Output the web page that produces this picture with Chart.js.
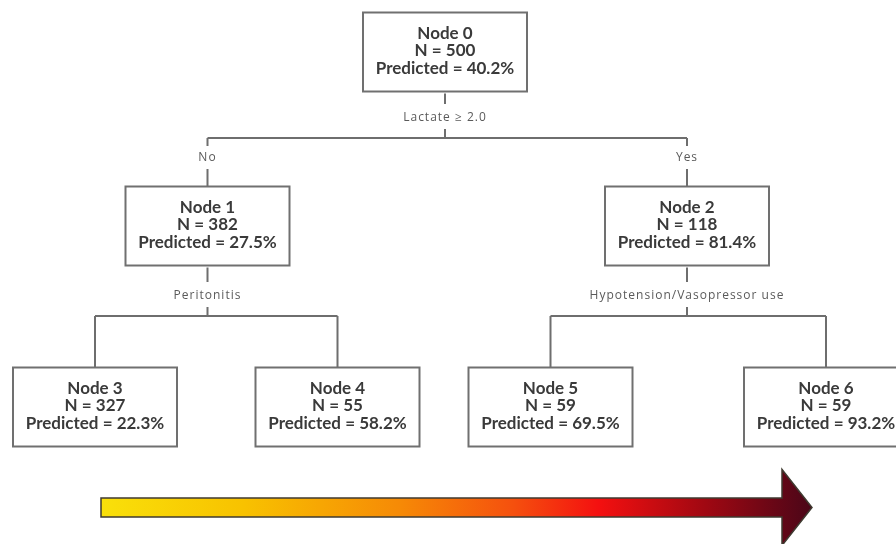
<!DOCTYPE html>
<html>
<head>
<meta charset="utf-8">
<script src="https://cdn.jsdelivr.net/npm/chart.js@4"></script>
<style>
html,body{margin:0;padding:0;background:#fff;}
#wrap{width:896px;height:544px;position:relative;}
</style>
</head>
<body>
<div id="wrap"><canvas id="c"></canvas></div>
<script>
// ---- data ----
const nodeNames = ['Node 0','Node 1','Node 2','Node 3','Node 4','Node 5','Node 6'];
const nodeN = [500, 382, 118, 327, 55, 59, 59];
const nodePredicted = [40.2, 27.5, 81.4, 22.3, 58.2, 69.5, 93.2];
const nodeParent = [null, 0, 0, 1, 1, 2, 2];
const splitLabels = ['Lactate \u2265 2.0', 'Peritonitis', 'Hypotension/Vasopressor use', null, null, null, null];
const branchLabels = ['No', 'Yes'];

// ---- layout (positions in scale units = pixels) ----
const layout = {
  nodeX: [445, 207.5, 687, 95, 337.5, 550.5, 826],
  levelY: [52, 226, 407],
  nodeLevel: [0, 1, 1, 2, 2, 2, 2],
  boxW: 164, boxH: 79,
  splitLabelGap: [26.5, 30.5],   // per parent level: parent bottom -> label center
  barGap: [46.5, 50.5],          // per parent level: parent bottom -> horizontal bar
  arrow: {x0: 101, x1: 782, tip: 812, yMid: 507.5, shaftH: 19, headH: 76}
};

function boxTop(i){ return layout.levelY[layout.nodeLevel[i]] - layout.boxH/2; }
function boxBottom(i){ return layout.levelY[layout.nodeLevel[i]] + layout.boxH/2; }

// build connector segments
const segments = [];
const textLabels = [];
for (let p = 0; p < nodeNames.length; p++) {
  const kids = [];
  nodeParent.forEach((par, i) => { if (par === p) kids.push(i); });
  if (!kids.length) continue;
  const lv = layout.nodeLevel[p];
  const px = layout.nodeX[p];
  const pb = boxBottom(p);
  const barY = pb + layout.barGap[lv];
  const labY = pb + layout.splitLabelGap[lv];
  segments.push([[px, pb + 2], [px, labY - 14]]);
  segments.push([[px, labY + 11], [px, barY]]);
  textLabels.push({x: px, y: labY, text: splitLabels[p]});
  segments.push([[layout.nodeX[kids[0]], barY], [layout.nodeX[kids[kids.length-1]], barY]]);
  kids.forEach((k, j) => {
    const kx = layout.nodeX[k];
    const kt = boxTop(k);
    if (p === 0) {
      const by = barY + 20;
      segments.push([[kx, barY], [kx, by - 12]]);
      segments.push([[kx, by + 11], [kx, kt]]);
      textLabels.push({x: kx, y: by, text: branchLabels[j]});
    } else {
      segments.push([[kx, barY], [kx, kt]]);
    }
  });
}

const datasets = segments.map(s => ({
  type: 'line',
  data: s.map(pt => ({x: pt[0], y: pt[1]})),
  borderColor: '#6e6e6e',
  borderWidth: 2,
  pointRadius: 0,
  fill: false,
  tension: 0
}));

// node centers as scatter points (invisible; boxes drawn from them)
datasets.push({
  type: 'scatter',
  label: 'nodes',
  data: nodeNames.map((n, i) => ({x: layout.nodeX[i], y: layout.levelY[layout.nodeLevel[i]]})),
  pointRadius: 0
});

const treePlugin = {
  id: 'tree',
  afterDatasetsDraw(chart) {
    const ctx = chart.ctx;
    const xs = chart.scales.x, ys = chart.scales.y;
    const meta = chart.getDatasetMeta(chart.data.datasets.length - 1);
    ctx.save();
    // boxes
    meta.data.forEach((pt, i) => {
      const cx = pt.x, cy = pt.y;
      const w = layout.boxW, h = layout.boxH;
      ctx.fillStyle = '#ffffff';
      ctx.fillRect(cx - w/2, cy - h/2, w, h);
      ctx.strokeStyle = '#707070';
      ctx.lineWidth = 2;
      ctx.strokeRect(cx - w/2, cy - h/2, w, h);
      ctx.fillStyle = '#3a3a3a';
      ctx.font = 'bold 17px Lato, "Liberation Sans", sans-serif';
      ctx.textAlign = 'center';
      ctx.textBaseline = 'middle';
      const lines = [nodeNames[i], 'N = ' + nodeN[i], 'Predicted = ' + nodePredicted[i].toFixed(1) + '%'];
      lines.forEach((t, j) => ctx.fillText(t, cx, cy - 18.5 + j * 17.5));
    });
    // split/branch labels
    ctx.font = '12px "Open Sans", sans-serif';
    ctx.letterSpacing = '1px';
    ctx.fillStyle = '#5a5a5a';
    ctx.textAlign = 'center';
    ctx.textBaseline = 'middle';
    textLabels.forEach(l => {
      ctx.fillText(l.text, xs.getPixelForValue(l.x), ys.getPixelForValue(l.y));
    });
    ctx.letterSpacing = '0px';
    // gradient arrow
    const a = layout.arrow;
    const x0 = xs.getPixelForValue(a.x0), x1 = xs.getPixelForValue(a.x1), xt = xs.getPixelForValue(a.tip);
    const ym = ys.getPixelForValue(a.yMid);
    const g = ctx.createLinearGradient(x0, 0, xt, 0);
    g.addColorStop(0, '#f9e00a');
    g.addColorStop(0.2, '#f8c200');
    g.addColorStop(0.42, '#f68a06');
    g.addColorStop(0.58, '#f5500e');
    g.addColorStop(0.7, '#f41010');
    g.addColorStop(0.85, '#a00812');
    g.addColorStop(1, '#4a0618');
    ctx.beginPath();
    ctx.moveTo(x0, ym - a.shaftH/2);
    ctx.lineTo(x1, ym - a.shaftH/2);
    ctx.lineTo(x1, ym - a.headH/2);
    ctx.lineTo(xt, ym);
    ctx.lineTo(x1, ym + a.headH/2);
    ctx.lineTo(x1, ym + a.shaftH/2);
    ctx.lineTo(x0, ym + a.shaftH/2);
    ctx.closePath();
    ctx.fillStyle = g;
    ctx.fill();
    ctx.strokeStyle = '#3f3a30';
    ctx.lineWidth = 1.5;
    ctx.stroke();
    ctx.restore();
  }
};

new Chart(document.getElementById('c'), {
  type: 'scatter',
  data: {datasets},
  options: {
    responsive: true,
    maintainAspectRatio: false,
    animation: false,
    layout: {padding: 0},
    plugins: {legend: {display: false}, tooltip: {enabled: false}},
    scales: {
      x: {type: 'linear', min: 0, max: 896, display: false},
      y: {type: 'linear', min: 0, max: 544, reverse: true, display: false}
    }
  },
  plugins: [treePlugin]
});
</script>
</body>
</html>
